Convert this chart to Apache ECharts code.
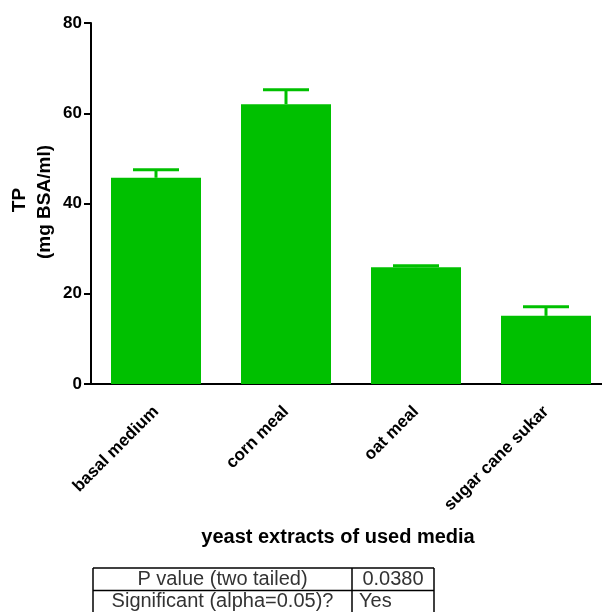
<!DOCTYPE html>
<html>
<head>
<meta charset="utf-8">
<script src="https://cdn.jsdelivr.net/npm/echarts@6/dist/echarts.min.js"></script>
<style>
  html, body { margin: 0; padding: 0; background: #fff; }
  #chart { width: 602px; height: 612px; }
</style>
</head>
<body>
<div id="chart"></div>
<script>
// Total protein by yeast-extract medium (mean with SEM)
const categories = ['basal medium', 'corn meal', 'oat meal', 'sugar cane sukar'];
const meanValues = [45.7, 62.0, 25.9, 15.1];
const errorValues = [1.8, 3.2, 0.3, 2.0];
const yTicks = [0, 20, 40, 60, 80];

// Statistics summary shown beneath the chart
const statLabels = ['P value (two tailed)', 'Significant (alpha=0.05)?'];
const statValues = ['0.0380', 'Yes'];

const GREEN = '#00c000';
const FONT = '"Liberation Sans", Arial, Helvetica, sans-serif';

const chart = echarts.init(document.getElementById('chart'), null, { renderer: 'canvas' });

const errorData = meanValues.map((v, i) => [i, v, v + errorValues[i]]);

// Table cells built from the statistic arrays
const tableLeft = 93, tableRight = 434, colSplit = 352, rowTop = 568, rowH = 22.5;
const tableGraphics = [];
statLabels.forEach((label, r) => {
  const cy = rowTop + rowH * r + rowH / 2;
  tableGraphics.push({
    type: 'text',
    x: (tableLeft + colSplit) / 2, y: cy,
    style: { text: label, font: '20px ' + FONT, fill: '#333', align: 'center', verticalAlign: 'middle' }
  });
  tableGraphics.push({
    type: 'text',
    x: r === 0 ? (colSplit + tableRight) / 2 : colSplit + 7, y: cy,
    style: { text: statValues[r], font: '20px ' + FONT, fill: '#333', align: r === 0 ? 'center' : 'left', verticalAlign: 'middle' }
  });
});
const border = { stroke: '#000', lineWidth: 1.5 };
tableGraphics.push(
  { type: 'line', shape: { x1: tableLeft, y1: rowTop, x2: tableRight, y2: rowTop }, style: border },
  { type: 'line', shape: { x1: tableLeft, y1: rowTop + rowH, x2: tableRight, y2: rowTop + rowH }, style: border },
  { type: 'line', shape: { x1: tableLeft, y1: rowTop, x2: tableLeft, y2: 620 }, style: border },
  { type: 'line', shape: { x1: colSplit, y1: rowTop, x2: colSplit, y2: 620 }, style: border },
  { type: 'line', shape: { x1: tableRight, y1: rowTop, x2: tableRight, y2: 620 }, style: border }
);

const option = {
  animation: false,
  backgroundColor: '#fff',
  grid: { left: 91, top: 23, width: 520, height: 361, containLabel: false, outerBoundsMode: 'none' },
  xAxis: {
    type: 'category',
    data: categories,
    axisLine: { lineStyle: { color: '#000', width: 2 } },
    axisTick: { alignWithLabel: true, length: 8, lineStyle: { color: '#000', width: 2 } },
    axisLabel: {
      rotate: 45, margin: 25, color: '#000',
      fontFamily: FONT, fontSize: 17, fontWeight: 'bold', interval: 0
    },
    splitLine: { show: false }
  },
  yAxis: {
    type: 'value',
    min: yTicks[0], max: yTicks[yTicks.length - 1], interval: 20,
    axisLine: { show: true, lineStyle: { color: '#000', width: 2 } },
    axisTick: { show: true, length: 7, lineStyle: { color: '#000', width: 2 } },
    axisLabel: { color: '#000', fontFamily: FONT, fontSize: 17, fontWeight: 'bold', margin: 9 },
    splitLine: { show: false }
  },
  series: [
    {
      type: 'bar',
      data: meanValues,
      barWidth: 90,
      itemStyle: { color: GREEN },
      z: 2
    },
    {
      type: 'custom',
      data: errorData,
      z: 3,
      renderItem: function (params, api) {
        const base = api.coord([api.value(0), api.value(1)]);
        const top = api.coord([api.value(0), api.value(2)]);
        const half = 23;
        const st = { stroke: GREEN, lineWidth: 3 };
        return {
          type: 'group',
          children: [
            { type: 'line', shape: { x1: base[0], y1: base[1], x2: top[0], y2: top[1] }, style: st },
            { type: 'line', shape: { x1: top[0] - half, y1: top[1], x2: top[0] + half, y2: top[1] }, style: st }
          ]
        };
      }
    }
  ],
  graphic: [
    {
      type: 'text', x: 20, y: 200, rotation: Math.PI / 2,
      style: { text: 'TP', font: 'bold 19px ' + FONT, fill: '#000', align: 'center', verticalAlign: 'middle' }
    },
    {
      type: 'text', x: 45, y: 202, rotation: Math.PI / 2,
      style: { text: '(mg BSA/ml)', font: 'bold 19px ' + FONT, fill: '#000', align: 'center', verticalAlign: 'middle' }
    },
    {
      type: 'text', x: 338, y: 537,
      style: { text: 'yeast extracts of used media', font: 'bold 20px ' + FONT, fill: '#000', align: 'center', verticalAlign: 'middle' }
    }
  ].concat(tableGraphics)
};

chart.setOption(option);
</script>
</body>
</html>
